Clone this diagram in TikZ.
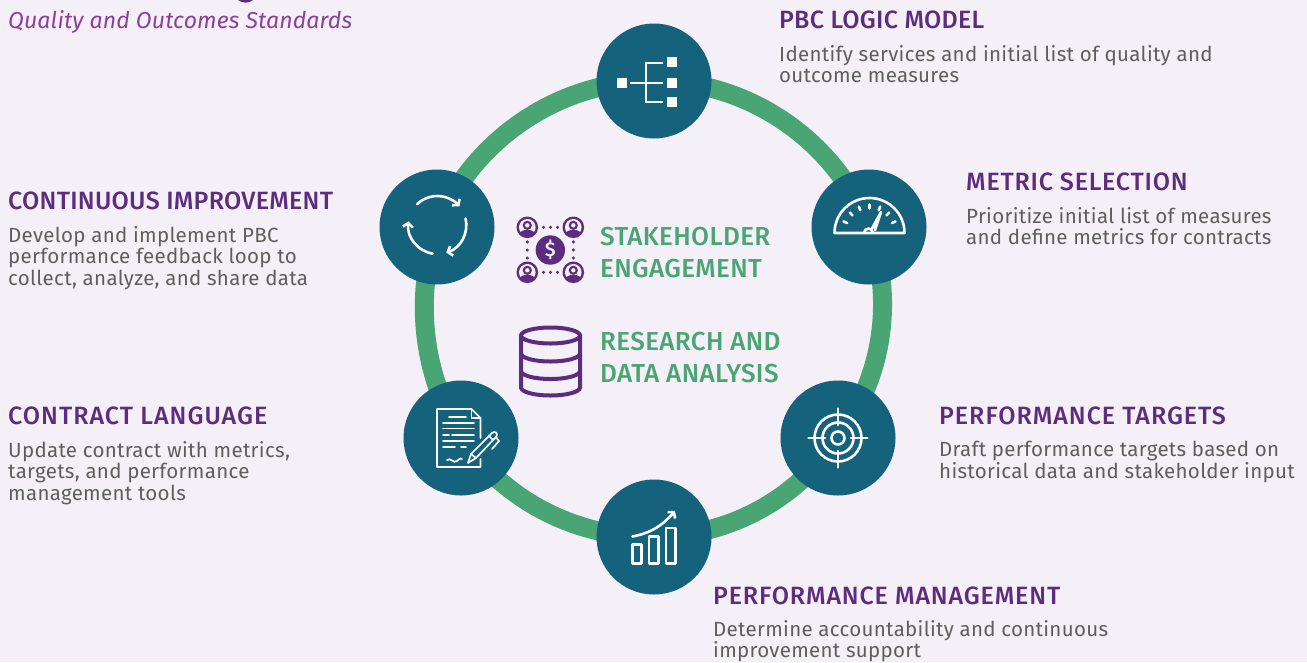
\documentclass[tikz,border=0pt]{standalone}
\usepackage{fontspec}
\setmainfont[LetterSpace=1.5]{Fira Sans}
\newfontfamily\headfont[LetterSpace=1.1]{Fira Sans Medium}
\newfontfamily\labelfont[LetterSpace=1.4]{Fira Sans Medium}
\newfontfamily\subfont[LetterSpace=0.7,ItalicFont={Fira Sans Italic}]{Fira Sans}
\usepackage{xcolor}
\usetikzlibrary{positioning, arrows.meta, backgrounds}

\definecolor{pagebg}{HTML}{F5F0F7}
\definecolor{teal}{HTML}{15627D}
\definecolor{ringgreen}{HTML}{4AA574}
\definecolor{headpurple}{HTML}{5C2D7E}
\definecolor{subpurple}{HTML}{8A3F9C}
\definecolor{bodygrey}{HTML}{5E5E5E}

\tikzset{
    stage/.style={circle, fill=teal, minimum size=115pt, inner sep=0pt},
    ringarc/.style={draw=ringgreen, line width=19pt, looseness=0.92},
    headtext/.style={font=\headfont\fontsize{25}{25}\selectfont, text=headpurple, inner sep=0pt, anchor=base west},
    headwide/.style={headtext, font=\headfont\addfontfeature{LetterSpace=#1}\fontsize{25}{25}\selectfont},
    desctext/.style={font=\fontsize{20.5}{21.3}\selectfont, text=bodygrey, inner sep=0pt, align=left},
    centertext/.style={font=\labelfont\fontsize{26}{26}\selectfont, text=ringgreen, inner sep=0pt, anchor=base west},
    iconline/.style={draw=white, line width=2.6pt, line cap=round},
    iconthin/.style={draw=white, line width=1.7pt, line cap=round},
    iconarrow/.style={iconline, -{Straight Barb[length=4pt,width=10pt]}},
    personicon/.pic={
        \fill[headpurple] (0,0) circle (10.8);
        \fill[pagebg] (0,0) circle (8.3);
        \fill[headpurple] (-8,7) .. controls (-7,1) and (7,1) .. (8,7) -- (3,8.5) -- (-3,8.5) -- cycle;
        \fill[headpurple] (0,-2) circle (4.6);
        \fill[pagebg] (0,-2) circle (2.2);
    }
}

\begin{document}
\begin{tikzpicture}[x=1pt, y=-1pt]
\useasboundingbox (0,0) rectangle (1307,662);

% stages around the ring
\node[stage] (logic) at (654,81) {};
\node[stage] (metric) at (869,227) {};
\node[stage] (target) at (838,438) {};
\node[stage] (manage) at (654,537) {};
\node[stage] (contract) at (461,438) {};
\node[stage] (improve) at (437,227) {};

\begin{scope}[on background layer]
\fill[pagebg] (0,0) rectangle (1307,662);
\draw[ringarc] (logic.center) to[bend left=34.5] (metric.center);
\draw[ringarc] (metric.center) to[bend left=28] (target.center);
\draw[ringarc] (target.center) to[bend left=27.5] (manage.center);
\draw[ringarc] (manage.center) to[bend left=27.5] (contract.center);
\draw[ringarc] (contract.center) to[bend left=24] (improve.center);
\draw[ringarc] (improve.center) to[bend left=34.5] (logic.center);
\end{scope}

% logic model icon
\begin{scope}[shift={(logic.center)}]
\fill[white] (-37,-3) rectangle (-27,7);
\foreach \y in {-19,2,21} {
    \fill[white] (13,\y-5) rectangle (23,\y+5);
}
\draw[iconline, line cap=butt] (9,-18) -- (-8,-18) -- (-8,21) -- (9,21);
\draw[iconline, line cap=butt] (-24,2) -- (9,2);
\end{scope}

% gauge icon
\begin{scope}[shift={(metric.center)}]
\draw[iconline, line join=round] (-34.5,6) arc[start angle=180, end angle=360, radius=35] -- cycle;
\foreach \a in {-24,-46,-68,-90,-112,-134,-156} {
    \draw[iconline] (\a:24.5) ++(0.5,6) -- ++(\a:4);
}
\draw[iconline] (-5,6) arc[start angle=180, end angle=360, radius=4.5];
\draw[iconline, line join=round] (3,1.5) -- (12,-15) -- (6,3);
\end{scope}

% feedback loop icon
\begin{scope}[shift={(improve.center)}]
\draw[iconarrow] (-134:29) ++(0.3,-2) arc[start angle=-134, end angle=-40, radius=29];
\draw[iconarrow] (-13:29) ++(0.3,-2) arc[start angle=-13, end angle=72, radius=29];
\draw[iconarrow] (99:29) ++(0.3,-2) arc[start angle=99, end angle=187, radius=29];
\end{scope}

% contract icon
\begin{scope}[shift={(contract.center)}]
\draw[iconthin, line join=round] (19.5,21) -- (19.5,29) -- (-24,29) -- (-24,-29) -- (10.5,-29) -- (19.5,-20) -- (19.5,0);
\draw[iconthin, line join=round] (10.5,-29) -- (10.5,-20) -- (19.5,-20);
\foreach \y/\xa/\xb in {-21/-12/5, -15/-18/13, -9.5/-18/13, -3/-18/-12, -3/-9/13, 3/-18/13, 9/-18/-6, 9/0/5} {
    \draw[iconthin] (\xa,\y) -- (\xb,\y);
}
\draw[iconthin] (-14,22) .. controls (-10,19) and (-8,26) .. (-4,23) .. controls (-1,20) and (1,20) .. (1,21);
\draw[iconthin, line join=round] (7,25) -- (10,16) -- (31,-5) .. controls (34,-8) and (38,-4) .. (35,-1) -- (15,20) -- cycle;
\draw[iconthin] (10,16) -- (15,20);
\draw[iconthin] (28,-2) -- (32,2);
\draw[iconthin] (35,-1) -- (38,3) -- (31,11);
\end{scope}

% target icon
\begin{scope}[shift={(target.center)}]
\draw[iconline] (0,0) circle (23.5);
\draw[iconline] (0,0) circle (15.5);
\draw[iconline] (0,0) circle (6.5);
\foreach \a in {0,90,180,270} {
    \draw[iconline] (\a:13) -- (\a:29.5);
}
\end{scope}

% chart icon
\begin{scope}[shift={(manage.center)}]
\draw[iconline, line join=round] (-21.5,7.7) rectangle (-12.5,26.5);
\draw[iconline, line join=round] (-5,-0.7) rectangle (4.5,26.5);
\draw[iconline, line join=round] (12,-9) rectangle (21.5,26.5);
\draw[iconarrow] (-21.5,-0.5) .. controls (-3,-4) and (9,-12) .. (21,-26);
\end{scope}

% stakeholder icon
\fill[headpurple] (550.3,250) circle (14.7);
\node[font=\headfont\fontsize{20}{20}\selectfont, text=pagebg, inner sep=0pt] (dollar) at (550.3,250) {\$};
\foreach \x/\y in {527.3/227.3, 573.3/227.3, 527.3/272.3, 573.3/272.3} {
    \pic at (\x,\y) {personicon};
}
\foreach \x in {543.5,550.5,557.5} {
    \fill[headpurple] (\x,227.3) circle (1.7);
    \fill[headpurple] (\x,272.3) circle (1.7);
}
\foreach \y in {242,250,258} {
    \fill[headpurple] (527.3,\y) circle (1.7);
    \fill[headpurple] (573.3,\y) circle (1.7);
}

% database icon
\begin{scope}[shift={(550.5,335.5)}]
\draw[headpurple, line width=4pt] (0,0) ellipse [x radius=29.5, y radius=8];
\draw[headpurple, line width=4pt] (-29.5,0) -- (-29.5,52) arc[start angle=180, end angle=0, x radius=29.5, y radius=8] -- (29.5,0);
\draw[headpurple, line width=4pt] (-29.5,18) arc[start angle=180, end angle=0, x radius=29.5, y radius=8];
\draw[headpurple, line width=4pt] (29.5,35.5) arc[start angle=0, end angle=180, x radius=29.5, y radius=8];
\end{scope}

% title
\fill[headpurple] (238,0) .. controls (242,3.5) and (249,3.5) .. (253,0) -- cycle;
\node[font=\subfont\itshape\fontsize{23}{23}\selectfont, text=subpurple, inner sep=0pt, anchor=base west] (subtitle) at (8,28.5) {Quality and Outcomes Standards};

% centre labels
\node[centertext] (stakeone) at (600,245.5) {STAKEHOLDER};
\node[centertext] (staketwo) at (600,277.5) {ENGAGEMENT};
\node[centertext] (dataone) at (600,350.5) {RESEARCH AND};
\node[centertext] (datatwo) at (600,382) {DATA ANALYSIS};

% headings and descriptions
\node[headtext] (logichead) at (779,28) {PBC LOGIC MODEL};
\node[desctext, below right=17.3pt and 0pt of logichead.base west] (logicdesc) {Identify services and initial list of quality and\\outcome measures};
\node[headwide=3.1] (metrichead) at (966,190) {METRIC SELECTION};
\node[desctext, below right=17.3pt and 0pt of metrichead.base west] (metricdesc) {Prioritize initial list of measures\\and define metrics for contracts};
\node[headtext] (improvehead) at (8,209) {CONTINUOUS IMPROVEMENT};
\node[desctext, below right=17.3pt and 0pt of improvehead.base west] (improvedesc) {Develop and implement PBC\\performance feedback loop to\\collect, analyze, and share data};
\node[headwide=4.1] (contracthead) at (8,424) {CONTRACT LANGUAGE};
\node[desctext, below right=17.3pt and 0pt of contracthead.base west] (contractdesc) {Update contract with metrics,\\targets, and performance\\management tools};
\node[headwide=4] (targethead) at (939,424) {PERFORMANCE TARGETS};
\node[desctext, below right=17.3pt and 0pt of targethead.base west] (targetdesc) {Draft performance targets based on\\historical data and stakeholder input};
\node[headwide=3.5] (managehead) at (713,604) {PERFORMANCE MANAGEMENT};
\node[desctext, below right=16.5pt and 0pt of managehead.base west] (managedesc) {Determine accountability and continuous\\improvement support};

\end{tikzpicture}
\end{document}
